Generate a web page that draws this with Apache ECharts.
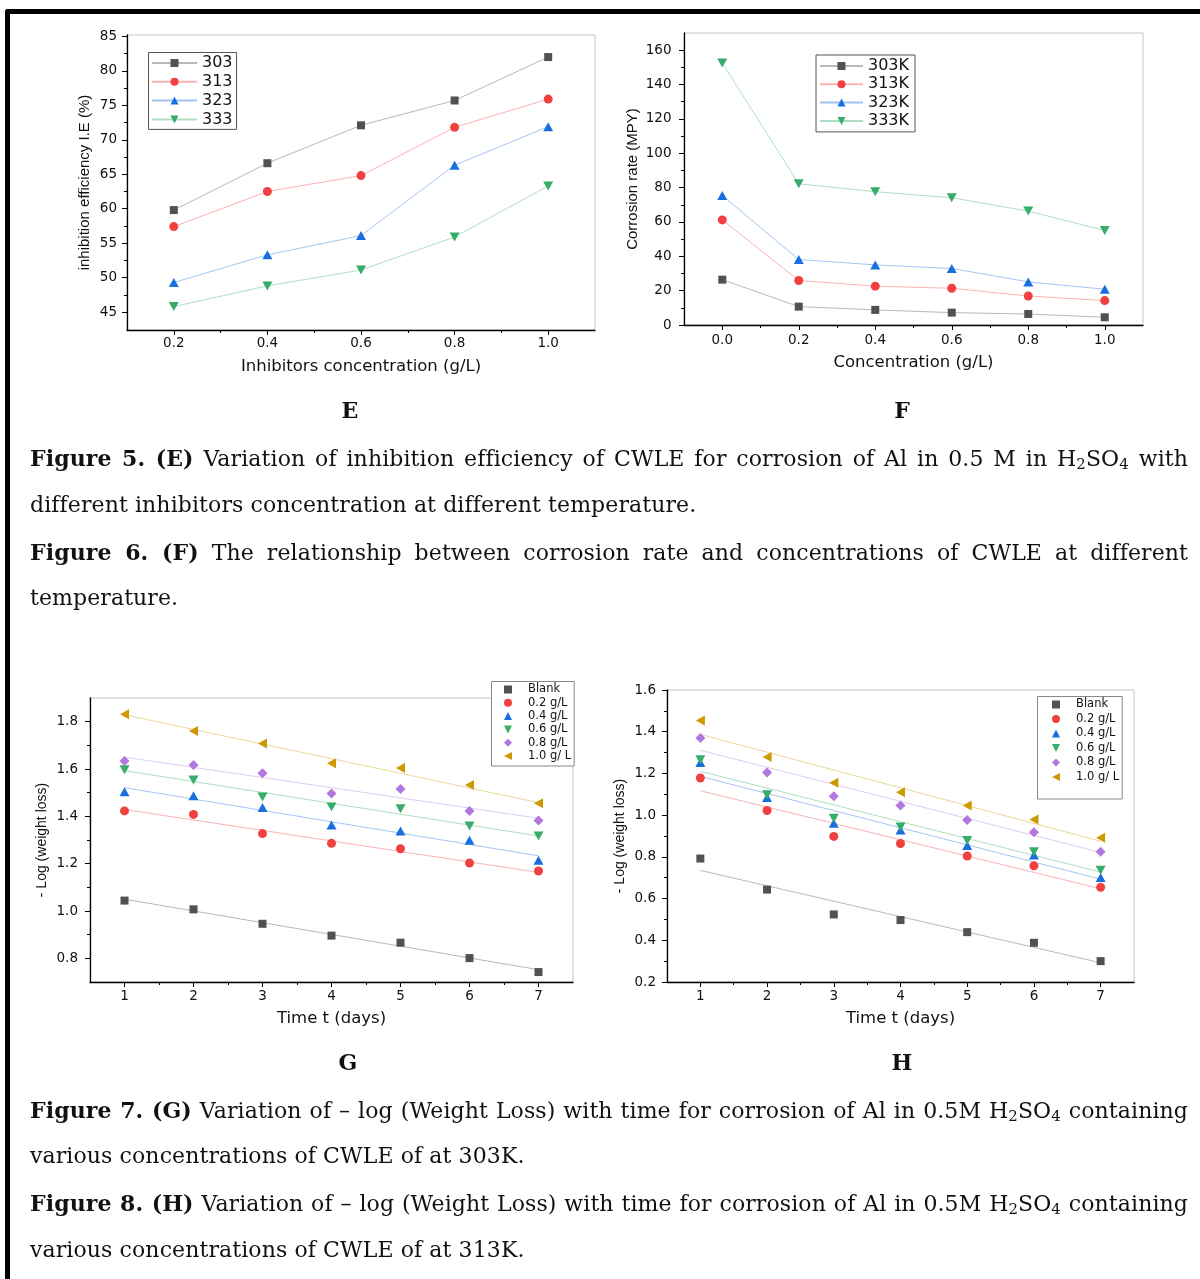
<!DOCTYPE html>
<html><head><meta charset="utf-8">
<script src="https://cdn.jsdelivr.net/npm/echarts@6/dist/echarts.min.js"></script>
<style>
html,body{margin:0;padding:0;background:#fff;}
#page{position:relative;width:1200px;height:1279px;overflow:hidden;background:#fff;}
#chart{position:absolute;left:0;top:0;width:1200px;height:1279px;}
#frame{position:absolute;left:5px;top:8.5px;width:1220px;height:1300px;border-top:5px solid #000;border-left:5px solid #000;border-top-left-radius:3px;box-sizing:border-box;}
.cap{position:absolute;left:30px;width:1158px;font-family:'DejaVu Serif',serif;font-size:22px;line-height:30px;color:#111;text-align:justify;text-align-last:justify;letter-spacing:0.1px;}
.cap.last{text-align-last:left;}
.lab{position:absolute;font-family:'DejaVu Serif',serif;font-weight:bold;font-size:22px;line-height:30px;color:#111;transform:translateX(-50%);}
sub{font-size:0.68em;vertical-align:-0.22em;line-height:0;}
</style></head>
<body>
<div id="page">
<div id="chart"></div>
<div id="frame"></div>
<div class="lab" style="left:350px;top:395px;">E</div>
<div class="lab" style="left:902px;top:395px;">F</div>
<div class="cap" style="top:443px;"><b>Figure 5. (E)</b> Variation of inhibition efficiency of CWLE for corrosion of Al in 0.5 M in H<sub>2</sub>SO<sub>4</sub> with</div>
<div class="cap last" style="top:490px;">different inhibitors concentration at different temperature.</div>
<div class="cap" style="top:537px;"><b>Figure 6. (F)</b> The relationship between corrosion rate and concentrations of CWLE at different</div>
<div class="cap last" style="top:583px;">temperature.</div>
<div class="lab" style="left:348px;top:1047px;">G</div>
<div class="lab" style="left:902px;top:1047px;">H</div>
<div class="cap" style="top:1095px;"><b>Figure 7. (G)</b> Variation of – log (Weight Loss) with time for corrosion of Al in 0.5M H<sub>2</sub>SO<sub>4</sub> containing</div>
<div class="cap last" style="top:1141px;">various concentrations of CWLE of at 303K.</div>
<div class="cap" style="top:1188px;"><b>Figure 8. (H)</b> Variation of – log (Weight Loss) with time for corrosion of Al in 0.5M H<sub>2</sub>SO<sub>4</sub> containing</div>
<div class="cap last" style="top:1235px;">various concentrations of CWLE of at 313K.</div>
</div>
<script>
// ---------- Data: Figure E (inhibition efficiency) ----------
const eConc = [0.2, 0.4, 0.6, 0.8, 1.0];
const eNames = ['303', '313', '323', '333'];
const ie303 = [59.8, 66.6, 72.1, 75.7, 82.0];
const ie313 = [57.4, 62.5, 64.8, 71.8, 75.9];
const ie323 = [49.3, 53.3, 56.1, 66.3, 71.9];
const ie333 = [45.8, 48.8, 51.1, 55.9, 63.3];
const eXTicks = [0.2, 0.4, 0.6, 0.8, 1.0];
const eXMinor = [0.3, 0.5, 0.7, 0.9];
const eYTicks = [45, 50, 55, 60, 65, 70, 75, 80, 85];
const eYMinor = [47.5, 52.5, 57.5, 62.5, 67.5, 72.5, 77.5, 82.5];

// ---------- Data: Figure F (corrosion rate) ----------
const fConc = [0.0, 0.2, 0.4, 0.6, 0.8, 1.0];
const fNames = ['303K', '313K', '323K', '333K'];
const cr303 = [26.4, 10.7, 8.8, 7.2, 6.4, 4.5];
const cr313 = [61.2, 25.9, 22.6, 21.4, 16.9, 14.2];
const cr323 = [75.4, 38.1, 35.0, 32.9, 25.1, 20.8];
const cr333 = [152.6, 82.2, 77.6, 74.1, 66.3, 55.0];
const fXTicks = [0.0, 0.2, 0.4, 0.6, 0.8, 1.0];
const fXMinor = [0.1, 0.3, 0.5, 0.7, 0.9];
const fYTicks = [0, 20, 40, 60, 80, 100, 120, 140, 160];
const fYMinor = [10, 30, 50, 70, 90, 110, 130, 150];

// ---------- Data: Figures G and H (-log weight loss) ----------
const days = [1, 2, 3, 4, 5, 6, 7];
const wNames = ['Blank', '0.2 g/L', '0.4 g/L', '0.6 g/L', '0.8 g/L', '1.0 g/ L'];
const gBlank = [1.044, 1.007, 0.946, 0.896, 0.866, 0.801, 0.742];
const g02 = [1.423, 1.408, 1.327, 1.286, 1.263, 1.203, 1.169];
const g04 = [1.504, 1.487, 1.437, 1.363, 1.338, 1.299, 1.214];
const g06 = [1.597, 1.554, 1.482, 1.439, 1.432, 1.359, 1.317];
const g08 = [1.634, 1.617, 1.582, 1.496, 1.515, 1.423, 1.382];
const g10 = [1.831, 1.761, 1.708, 1.624, 1.604, 1.532, 1.455];
const gFitDay1 = [1.050, 1.429, 1.521, 1.593, 1.650, 1.829];
const gFitDay7 = [0.752, 1.163, 1.233, 1.317, 1.392, 1.458];

const hBlank = [0.792, 0.643, 0.524, 0.497, 0.439, 0.388, 0.300];
const h02 = [1.178, 1.022, 0.898, 0.864, 0.804, 0.757, 0.654];
const h04 = [1.252, 1.085, 0.961, 0.929, 0.855, 0.809, 0.701];
const h06 = [1.266, 1.098, 0.985, 0.943, 0.878, 0.825, 0.736];
const h08 = [1.370, 1.205, 1.091, 1.046, 0.977, 0.918, 0.825];
const h10 = [1.454, 1.279, 1.155, 1.110, 1.046, 0.979, 0.892];
const hFitDay1 = [0.735, 1.117, 1.186, 1.210, 1.311, 1.387];
const hFitDay7 = [0.292, 0.647, 0.693, 0.727, 0.821, 0.875];

const wXTicks = [1, 2, 3, 4, 5, 6, 7];
const wXMinor = [1.5, 2.5, 3.5, 4.5, 5.5, 6.5];
const gYTicks = [0.8, 1.0, 1.2, 1.4, 1.6, 1.8];
const gYMinor = [0.9, 1.1, 1.3, 1.5, 1.7];
const hYTicks = [0.2, 0.4, 0.6, 0.8, 1.0, 1.2, 1.4, 1.6];
const hYMinor = [0.3, 0.5, 0.7, 0.9, 1.1, 1.3, 1.5];

// ---------- Styles ----------
const COLORS = ['#515151', '#F14040', '#1A6FDF', '#37AD6B', '#B177DE', '#CC9900'];
const SYMBOLS = ['rect', 'circle', 'triangle', 'triangle', 'diamond', 'triangle'];
const ROTATE = [0, 0, 0, 180, 0, 90];
const SIZES = [8, 9, [10, 9], [10, 9], [10, 10], [10, 9]];
const FONT = 'DejaVu Sans';
const YFONT = 'Liberation Sans';
function light(hex, a) {
  const n = parseInt(hex.slice(1), 16);
  return 'rgba(' + (n >> 16) + ',' + ((n >> 8) & 255) + ',' + (n & 255) + ',' + a + ')';
}

function mainAxis(gi, pos, min, max, ticks, fmt, margin, name, gap, nameFont, nameSize) {
  return {
    gridIndex: gi, type: 'value', position: pos, min: min, max: max,
    axisLine: { show: true, onZero: false, lineStyle: { color: '#000', width: 1.3 } },
    axisTick: { show: true, customValues: ticks, length: 5, inside: false, lineStyle: { color: '#000', width: 1 } },
    axisLabel: { show: true, customValues: ticks, formatter: fmt, margin: margin, color: '#111', fontFamily: FONT, fontSize: 13.5 },
    splitLine: { show: false },
    name: name, nameLocation: 'middle', nameGap: gap,
    nameRotate: (pos === 'left') ? 90 : 0,
    nameTextStyle: { fontFamily: nameFont, fontSize: nameSize, color: '#111' }
  };
}
function minorAxis(gi, pos, min, max, ticks) {
  return {
    gridIndex: gi, type: 'value', position: pos, min: min, max: max,
    axisLine: { show: false, onZero: false }, axisLabel: { show: false }, splitLine: { show: false },
    axisTick: { show: true, customValues: ticks, length: 3, lineStyle: { color: '#000', width: 1 } }
  };
}
const f1 = v => Number(v).toFixed(1);
const f0 = v => String(Math.round(v));

const xAxis = [
  mainAxis(0, 'bottom', 0.1, 1.1, eXTicks, f1, 6.5, 'Inhibitors concentration (g/L)', 28, FONT, 16.5),
  minorAxis(0, 'bottom', 0.1, 1.1, eXMinor),
  mainAxis(1, 'bottom', -0.1, 1.1, fXTicks, f1, 8, 'Concentration (g/L)', 29, FONT, 16.5),
  minorAxis(1, 'bottom', -0.1, 1.1, fXMinor),
  mainAxis(2, 'bottom', 0.5, 7.5, wXTicks, f0, 7.5, 'Time t (days)', 28.5, FONT, 16.5),
  minorAxis(2, 'bottom', 0.5, 7.5, wXMinor),
  mainAxis(3, 'bottom', 0.5, 7.5, wXTicks, f0, 7.5, 'Time t (days)', 28, FONT, 16.5),
  minorAxis(3, 'bottom', 0.5, 7.5, wXMinor)
];
const yAxis = [
  mainAxis(0, 'left', 42.4, 85.2, eYTicks, f0, 10, 'inhibition efficiency I.E (%)', 34.5, YFONT, 15),
  minorAxis(0, 'left', 42.4, 85.2, eYMinor),
  mainAxis(1, 'left', 0, 170, fYTicks, f0, 12.5, 'Corrosion rate (MPY)', 43.5, YFONT, 15),
  minorAxis(1, 'left', 0, 170, fYMinor),
  mainAxis(2, 'left', 0.7, 1.9, gYTicks, f1, 12, '- Log (weight loss)', 41, YFONT, 14),
  minorAxis(2, 'left', 0.7, 1.9, gYMinor),
  mainAxis(3, 'left', 0.2, 1.6, hYTicks, f1, 11, '- Log (weight loss)', 40, YFONT, 14),
  minorAxis(3, 'left', 0.2, 1.6, hYMinor)
];

const gridStyle = { show: true, borderColor: '#c4c4c4', borderWidth: 1, backgroundColor: 'transparent', containLabel: false };
const grid = [
  Object.assign({ left: 127, top: 35, width: 468, height: 295 }, gridStyle),
  Object.assign({ left: 684, top: 33, width: 459, height: 292 }, gridStyle),
  Object.assign({ left: 90, top: 698, width: 483, height: 284 }, gridStyle),
  Object.assign({ left: 667, top: 690, width: 467, height: 292 }, gridStyle)
];

const series = [];
function markerSeries(name, xs, ys, i, axis, withLine) {
  return {
    type: 'line', name: name, xAxisIndex: axis, yAxisIndex: axis,
    data: xs.map((x, j) => [x, ys[j]]),
    symbol: SYMBOLS[i], symbolRotate: ROTATE[i], symbolSize: SIZES[i], showSymbol: true,
    symbolKeepAspect: true,
    itemStyle: { color: COLORS[i], borderWidth: 0 },
    lineStyle: withLine ? { color: light(COLORS[i], 0.4), width: 1 } : { width: 0, color: 'rgba(0,0,0,0)' },
    emphasis: { disabled: true }, animation: false, z: 3
  };
}
const eVals = [ie303, ie313, ie323, ie333];
eVals.forEach((v, i) => series.push(markerSeries(eNames[i], eConc, v, i, 0, true)));
const fVals = [cr303, cr313, cr323, cr333];
fVals.forEach((v, i) => series.push(markerSeries(fNames[i], fConc, v, i, 2, true)));

function fitSeries(tag, i, a, b, axis) {
  return {
    type: 'line', name: tag + i, xAxisIndex: axis, yAxisIndex: axis,
    data: [[days[0], a], [days[days.length - 1], b]],
    symbol: 'none', lineStyle: { color: light(COLORS[i], 0.4), width: 1 },
    silent: true, emphasis: { disabled: true }, animation: false, z: 2
  };
}
const gVals = [gBlank, g02, g04, g06, g08, g10];
const hVals = [hBlank, h02, h04, h06, h08, h10];
gVals.forEach((v, i) => series.push(fitSeries('gfit', i, gFitDay1[i], gFitDay7[i], 4)));
gVals.forEach((v, i) => series.push(markerSeries(wNames[i], days, v, i, 4, false)));
hVals.forEach((v, i) => series.push(fitSeries('hfit', i, hFitDay1[i], hFitDay7[i], 6)));
hVals.forEach((v, i) => series.push(markerSeries(wNames[i], days, v, i, 6, false)));

function legendBox(names, left, top, iw, ih, gap, pad, fs, border) {
  return {
    orient: 'vertical', left: left, top: top, data: names, selectedMode: false,
    itemWidth: iw, itemHeight: ih, itemGap: gap, padding: pad,
    borderColor: border, borderWidth: 1, borderRadius: 0, backgroundColor: '#fff',
    textStyle: { fontFamily: FONT, fontSize: fs, lineHeight: fs, color: '#111' }
  };
}
const legend = [
  legendBox(eNames, 148.5, 52.5, 45, 10, 2.8, [2.5, 4, 2, 2.5], 16, '#555'),
  legendBox(fNames, 816, 55, 43, 10, 2.3, [3, 6, 3, 3], 16, '#555'),
  legendBox(wNames, 491.5, 681.5, 30, 10, 1.3, [2, 3, 4, 1.5], 11.5, '#888'),
  legendBox(wNames, 1037.5, 696.5, 30, 10, 2.5, [2, 3, 16, 3.5], 11.5, '#888')
];

const chart = echarts.init(document.getElementById('chart'), null, { renderer: 'canvas' });
chart.setOption({
  animation: false,
  backgroundColor: '#fff',
  grid: grid, xAxis: xAxis, yAxis: yAxis, legend: legend, series: series
});
</script>
</body></html>
